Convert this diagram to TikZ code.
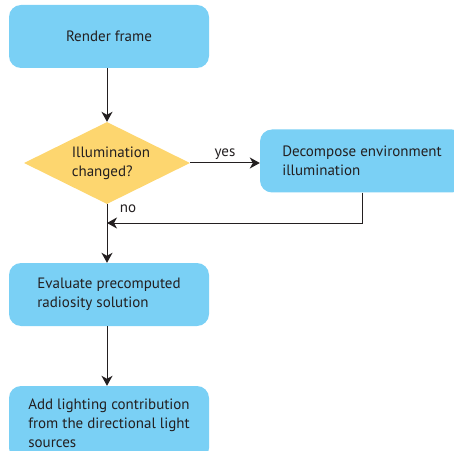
\documentclass[tikz,border=0pt]{standalone}
\usepackage{fontspec}
\setmainfont{PT Sans}
\usetikzlibrary{arrows.meta}
\usetikzlibrary{shapes.geometric}
\definecolor{boxblue}{HTML}{7AD0F5}
\definecolor{diayellow}{HTML}{FDD66F}
\definecolor{ink}{HTML}{231F20}

\begin{document}
\begin{tikzpicture}[x=1pt,y=1pt]
	\tikzstyle{etape}=[rectangle,rounded corners=12pt,fill=boxblue,minimum width=200pt,minimum height=63pt,align=left,text=ink,font=\fontsize{15}{19}\selectfont]
	\tikzstyle{test}=[diamond,aspect=2,inner sep=0pt,fill=diayellow,minimum width=166pt,minimum height=82pt,align=left,text=ink,font=\fontsize{15}{19}\selectfont]
	\tikzstyle{fleche}=[draw=ink,line width=1pt,-{Stealth[length=10pt,width=11pt,inset=3pt]}]
	\tikzstyle{etiquette}=[text=ink,font=\fontsize{15}{19}\selectfont]
	\clip (0,0) rectangle (454,450);
	\node[etape] (render) at (109,413.5){Render frame};
	\node[test] (illum) at (107,287){\hspace*{8pt}Illumination\\\hspace*{8pt}changed?};
	\node[etape,minimum width=204pt] (decomp) at (362,289){Decompose environment\\illumination};
	\node[etape] (eval) at (109,155.5){Evaluate precomputed\\radiosity solution};
	\node[etape,minimum height=74pt] (light) at (109,27){Add lighting contribution\\from the directional light\\sources};
	\coordinate (merge) at (107,227);
	\draw[fleche] (render.south -| illum.north) -- (illum.north);
	\draw[fleche] (illum.east) -- node[etiquette,above]{yes} (illum.east -| decomp.west);
	\draw[fleche] (decomp.south) |- (merge);
	\draw[fleche] (illum.south) -- node[etiquette,pos=0.08,right=9pt]{no} (eval.north -| illum.south);
	\draw[fleche] (eval.south -| illum.south) -- (light.north -| illum.south);
\end{tikzpicture}
\end{document}
